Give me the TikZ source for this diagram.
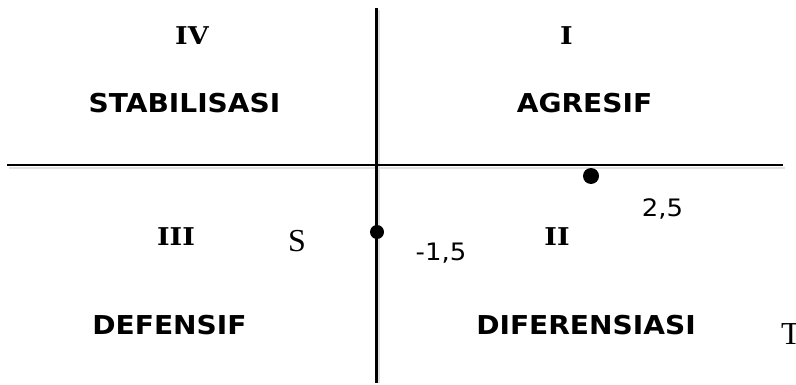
\documentclass[tikz,border=0pt]{standalone}
\usepackage{fontspec}
\setmainfont{Liberation Serif}
\newfontfamily\vbfont[FakeStretch=1.08]{DejaVu Sans Bold}
\newfontfamily\vfont[FakeStretch=1.08]{DejaVu Sans}
\newfontfamily\rfont[FakeStretch=1.1]{DejaVu Serif Bold}
\begin{document}
\begin{tikzpicture}[x=1pt,y=-1pt,
  quad/.style={font=\vbfont\fontsize{26}{30}\selectfont, inner sep=0pt, anchor=center},
  roman/.style={font=\rfont\fontsize{24.5}{28}\selectfont, inner sep=0pt, anchor=center},
  num/.style={font=\vfont\fontsize{24}{28}\selectfont, inner sep=0pt, anchor=center},
  axlab/.style={font=\fontsize{32}{36}\selectfont, inner sep=0pt, anchor=center},
  shadow/.style={draw=black!12, line width=2.5pt},
  pt/.style={circle, fill=black, inner sep=0pt}]
\useasboundingbox (0,0) rectangle (796,385);
\coordinate (hl) at (7,165);
\coordinate (hr) at (783,165);
\coordinate (vt) at (376,8);
\coordinate (vb) at (376,383);
\coordinate (hls) at (9,168);
\coordinate (hrs) at (785,168);
\coordinate (vts) at (379,10);
\coordinate (vbs) at (379,383);
\draw[shadow] (hls) -- (hrs);
\draw[shadow] (vts) -- (vbs);
\draw[line width=1.8pt] (hl) -- (hr);
\draw[line width=3pt] (vt) -- (vb);
\node[pt, minimum size=16pt] (p1) at (591,176) {};
\node[pt, minimum size=14pt] (p2) at (377,232) {};
\node[roman] (iv) at (192,36) {IV};
\node[roman] (i) at (566.5,36) {I};
\node[roman] (iii) at (176,237) {III};
\node[roman] (ii) at (557,237) {II};
\node[quad] (stab) at (184.5,103) {STABILISASI};
\node[quad] (agr) at (584.5,103) {AGRESIF};
\node[quad] (def) at (169.5,325) {DEFENSIF};
\node[quad] (dif) at (586,325) {DIFERENSIASI};
\node[axlab] (s) at (297,241) {S};
\node[axlab, anchor=west] (t) at (781,334) {T};
\node[num] (n1) at (441,253) {-1,5};
\node[num] (n2) at (662.5,209) {2,5};
\end{tikzpicture}
\end{document}
